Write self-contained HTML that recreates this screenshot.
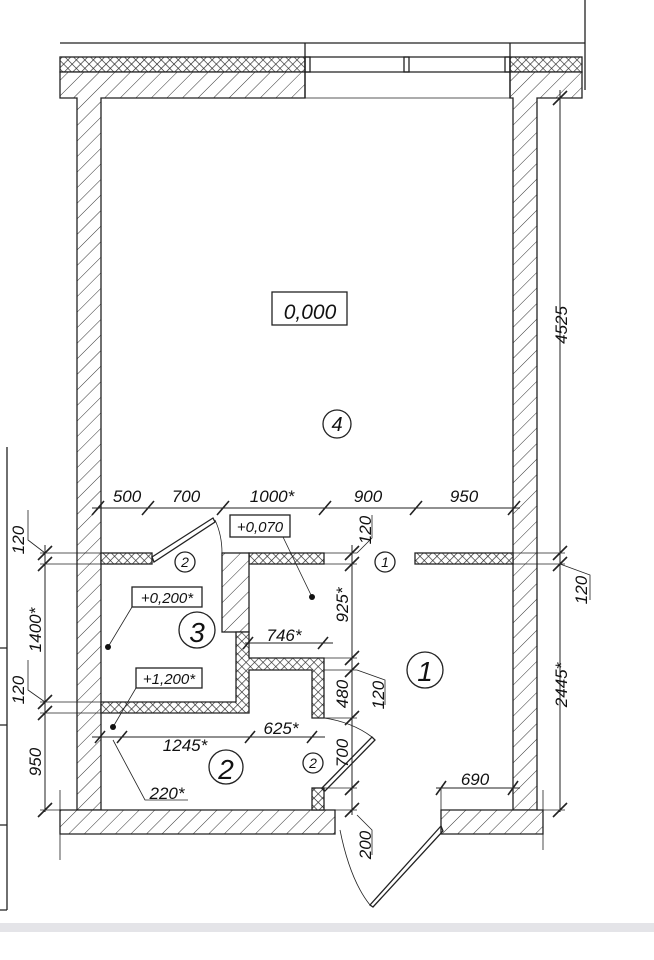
<!DOCTYPE html>
<html><head><meta charset="utf-8"><style>
html,body{margin:0;padding:0;background:#fff;}
svg{display:block}
text{font-family:"Liberation Sans",sans-serif;font-style:italic;fill:#111;}
</style></head><body>
<svg width="654" height="960" viewBox="0 0 654 960" xmlns="http://www.w3.org/2000/svg">
<defs>
<pattern id="h" width="11" height="11" patternUnits="userSpaceOnUse" patternTransform="rotate(45)">
<rect width="11" height="11" fill="#fff"/><line x1="0" y1="0" x2="0" y2="11" stroke="#333" stroke-width="1"/></pattern>
<pattern id="x" width="6" height="6" patternUnits="userSpaceOnUse" patternTransform="rotate(45)">
<rect width="6" height="6" fill="#fff"/><path d="M0 0V6M0 0H6" stroke="#222" stroke-width="1.3"/></pattern>
</defs>
<g stroke="#222" stroke-width="1.3" fill="none">
<line x1="60" y1="43" x2="585" y2="43"/>
<line x1="585" y1="0" x2="585" y2="90"/>
<rect x="60" y="57" width="245" height="15" fill="url(#x)"/>
<rect x="510" y="57" width="72" height="15" fill="url(#x)"/>
<path d="M60 72H305V98H101V810H77V98H60Z" fill="url(#h)"/>
<path d="M510 72H582V98H537V810H513V98H510Z" fill="url(#h)"/>
<line x1="305" y1="43" x2="305" y2="98"/><line x1="510" y1="43" x2="510" y2="98"/>
<line x1="305" y1="57" x2="510" y2="57"/><line x1="305" y1="72" x2="510" y2="72"/>
<line x1="305" y1="98" x2="510" y2="98" stroke-width="0.8"/>
<rect x="305" y="57" width="5" height="15"/><rect x="404" y="57" width="5" height="15"/><rect x="505" y="57" width="5" height="15"/>
<path d="M60 810H335V834H60Z" fill="url(#h)"/>
<path d="M441 810H543V834H441Z" fill="url(#h)"/>
<rect x="101" y="553" width="51" height="11" fill="url(#x)"/>
<rect x="249" y="553" width="75" height="11" fill="url(#x)"/>
<rect x="222" y="553" width="27" height="79" fill="url(#h)"/>
<rect x="415" y="553" width="98" height="11" fill="url(#x)"/>
<path d="M101 702H236V632H249V658H324V718H312V670H249V713H101Z" fill="url(#x)"/>
<rect x="312" y="788" width="12" height="22" fill="url(#x)"/>
<path d="M152 557L213 518L215 522L154 562Z"/>
<path d="M215 520Q222 535 222 553" stroke-width="0.8"/>
<path d="M322 788L372 737L375 740L325 791Z"/>
<path d="M324 718Q352 722 372 737" stroke-width="0.8"/>
<path d="M441 826L370 905L373 907L443 831Z"/>
<path d="M340 830Q350 880 370 905" stroke-width="0.8"/>
<line x1="7" y1="447" x2="7" y2="910"/>
<path d="M0 648H7M0 725H7M0 825H7M0 910H7"/>
<line x1="45" y1="545" x2="45" y2="812" stroke-width="1"/>
<path d="M40 553H101M40 564H101M40 702H101M40 713H101M40 810H77" stroke-width="0.8"/>
<path d="M38 560L52 546M38 571L52 557M38 709L52 695M38 720L52 706M38 817L52 803" stroke-width="1.6"/>
<path d="M28 510V540L45 553M28 660V690L45 702" stroke-width="0.8"/>
<path d="M60 790V860" stroke-width="0.8"/>
<line x1="92" y1="508" x2="520" y2="508" stroke-width="1"/>
<path d="M92 515L104 501M142 515L154 501M217 515L229 501M319 515L331 501M410 515L422 501M508 515L520 501" stroke-width="1.6"/>
<line x1="560" y1="90" x2="560" y2="812" stroke-width="1"/>
<path d="M537 98H565M513 553H565M513 564H565M543 810H565" stroke-width="0.8"/>
<path d="M553 105L567 91M553 560L567 546M553 571L567 557M553 817L567 803" stroke-width="1.6"/>
<path d="M560 564L590 575V600" stroke-width="0.8"/>
<path d="M543 790V850" stroke-width="0.8"/>
<line x1="352" y1="545" x2="352" y2="815" stroke-width="1"/>
<path d="M324 553H357M324 564H357M324 658H357M324 670H357M324 718H357M324 788H357M335 810H357" stroke-width="0.8"/>
<path d="M345 560L359 546M345 571L359 557M345 665L359 651M345 677L359 663M345 725L359 711M345 795L359 781M345 817L359 803" stroke-width="1.6"/>
<path d="M357 553L372 538V515M357 670L385 680V705M357 815L372 830V855" stroke-width="0.8"/>
<line x1="245" y1="643" x2="333" y2="643" stroke-width="1"/>
<path d="M243 649L253 637M318 649L328 637" stroke-width="1.6"/>
<line x1="92" y1="737" x2="325" y2="737" stroke-width="1"/>
<path d="M95 743L105 731M117 743L127 731M245 743L255 731M307 743L317 731" stroke-width="1.6"/>
<line x1="436" y1="788" x2="520" y2="788" stroke-width="1"/>
<path d="M436 795L446 781M508 795L518 781" stroke-width="1.6"/>
<line x1="441" y1="788" x2="441" y2="810" stroke-width="0.8"/>
<rect x="272" y="292" width="75" height="33"/>
<rect x="230" y="515" width="60" height="22"/>
<rect x="132" y="587" width="70" height="20"/>
<rect x="136" y="668" width="66" height="20"/>
<path d="M283 537L312 597M132 607L108 647M136 688L113 727M113 740L145 800H188" stroke-width="0.8"/>
<circle cx="337" cy="424" r="14"/><circle cx="425" cy="670" r="18"/><circle cx="226" cy="767" r="17"/><circle cx="197" cy="630" r="18"/>
<circle cx="185" cy="562" r="10"/><circle cx="385" cy="562" r="10"/><circle cx="313" cy="763" r="10"/>
</g>
<g fill="#111"><circle cx="312" cy="597" r="3"/><circle cx="108" cy="647" r="3"/><circle cx="113" cy="727" r="3"/></g>
<g font-size="17">
<text x="310" y="319" text-anchor="middle" font-size="21">0,000</text>
<text x="337" y="431" text-anchor="middle" font-size="20">4</text>
<text x="425" y="681" text-anchor="middle" font-size="28">1</text>
<text x="226" y="779" text-anchor="middle" font-size="28">2</text>
<text x="197" y="642" text-anchor="middle" font-size="28">3</text>
<text x="185" y="567" text-anchor="middle" font-size="14">2</text>
<text x="385" y="567" text-anchor="middle" font-size="14">1</text>
<text x="313" y="768" text-anchor="middle" font-size="14">2</text>
<text x="127" y="502" text-anchor="middle">500</text>
<text x="186" y="502" text-anchor="middle">700</text>
<text x="272" y="502" text-anchor="middle">1000*</text>
<text x="368" y="502" text-anchor="middle">900</text>
<text x="464" y="502" text-anchor="middle">950</text>
<text x="260" y="532" text-anchor="middle" font-size="15">+0,070</text>
<text x="167" y="603" text-anchor="middle" font-size="15">+0,200*</text>
<text x="169" y="684" text-anchor="middle" font-size="15">+1,200*</text>
<text x="167" y="799" text-anchor="middle">220*</text>
<text x="284" y="641" text-anchor="middle">746*</text>
<text x="281" y="734" text-anchor="middle">625*</text>
<text x="185" y="751" text-anchor="middle">1245*</text>
<text x="475" y="785" text-anchor="middle">690</text>
<text transform="translate(24,540) rotate(-90)" text-anchor="middle">120</text>
<text transform="translate(41,630) rotate(-90)" text-anchor="middle">1400*</text>
<text transform="translate(24,690) rotate(-90)" text-anchor="middle">120</text>
<text transform="translate(41,762) rotate(-90)" text-anchor="middle">950</text>
<text transform="translate(371,530) rotate(-90)" text-anchor="middle">120</text>
<text transform="translate(348,605) rotate(-90)" text-anchor="middle">925*</text>
<text transform="translate(348,694) rotate(-90)" text-anchor="middle">480</text>
<text transform="translate(384,695) rotate(-90)" text-anchor="middle">120</text>
<text transform="translate(348,753) rotate(-90)" text-anchor="middle">700</text>
<text transform="translate(371,845) rotate(-90)" text-anchor="middle">200</text>
<text transform="translate(587,590) rotate(-90)" text-anchor="middle">120</text>
<text transform="translate(567,325) rotate(-90)" text-anchor="middle">4525</text>
<text transform="translate(567,685) rotate(-90)" text-anchor="middle">2445*</text>
</g>
<rect x="0" y="923" width="654" height="9" fill="#e4e4e8"/>
</svg>
</body></html>
